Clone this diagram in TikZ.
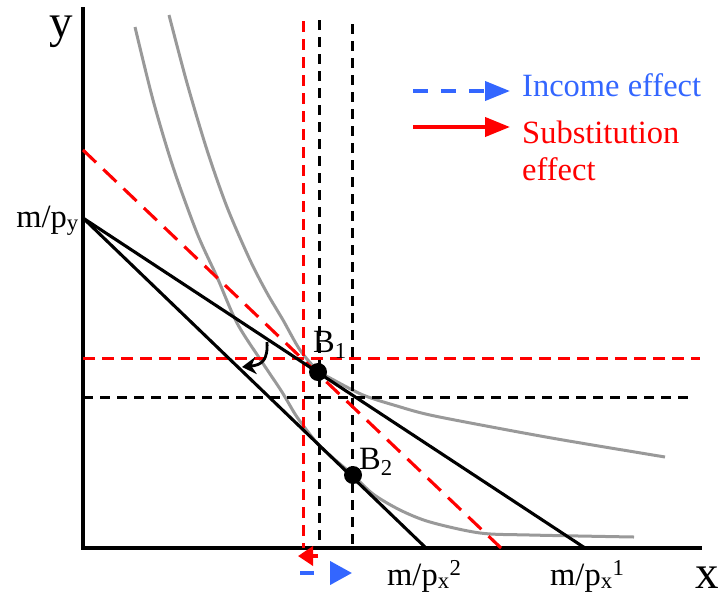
\documentclass[tikz,border=0pt]{standalone}
\usepackage{fontspec}
\setmainfont{Liberation Serif}
\usetikzlibrary{arrows.meta}
\definecolor{incomeblue}{HTML}{3366FF}
\definecolor{curvegray}{HTML}{999999}

\begin{document}
\begin{tikzpicture}[x=1pt, y=-1pt,
  axis/.style={line width=3.2pt},
  budget/.style={line width=3.1pt},
  indiff/.style={line width=3pt, color=curvegray},
  guide/.style={line width=3pt, dash pattern=on 10pt off 7pt},
  redguide/.style={guide, red, dash pattern=on 11pt off 7pt},
  bundle/.style={circle, fill=black, inner sep=0pt, minimum size=18pt},
  lbl/.style={font=\fontsize{32.5}{37}\selectfont, inner sep=0pt},
  axlbl/.style={font=\fontsize{47}{52}\selectfont, inner sep=0pt},
  effect/.style={line width=4pt, -{Triangle[length=25pt,width=19pt]}}
]
  \useasboundingbox (0,0) rectangle (722,598);

  % axes
  \coordinate (O) at (83,548);
  \coordinate (ytop) at (83,7);
  \coordinate (xend) at (702,548);
  \draw[axis] (ytop) -- (O) -- (xend);
  \node[axlbl, anchor=base] (ylab) at (61,37) {y};
  \node[axlbl, anchor=base] (xlab) at (707,588) {x};

  % indifference curves
  \draw[indiff] plot[smooth, tension=0.5] coordinates {
    (135,27) (153,100) (173,167) (197,233) (217,277) (237,323) (262,362)
    (282,392) (297,417) (317,443) (333,458) (353,475) (373,494) (400,510)
    (430,522) (480,533) (530,535) (634,537)};
  \draw[indiff] plot[smooth, tension=0.5] coordinates {
    (169,15) (187,83) (207,150) (227,207) (250,260) (267,293) (283,320)
    (300,350) (318,371) (330,378) (363,395) (397,406) (430,415) (497,428)
    (563,440) (665,457)};

  % guide lines
  \coordinate (rv) at (303,21);  \coordinate (rvb) at (303,548);
  \coordinate (bv1) at (319,20); \coordinate (bv1b) at (319,548);
  \coordinate (bv2) at (352,24); \coordinate (bv2b) at (352,548);
  \coordinate (rh) at (83,358);  \coordinate (rhe) at (700,358);
  \coordinate (bh) at (83,397);  \coordinate (bhe) at (695,397);
  \draw[redguide] (rv) -- (rvb);
  \draw[guide] (bv1) -- (bv1b);
  \draw[guide] (bv2) -- (bv2b);
  \draw[redguide, dash pattern=on 12pt off 7pt] (rh) -- (rhe);
  \draw[guide] (bh) -- (bhe);

  % budget lines
  \coordinate (py) at (83,218);
  \coordinate (px1) at (585,548);
  \coordinate (px2) at (426,548);
  \coordinate (comp) at (83,150);
  \coordinate (compx) at (501,548);
  \draw[budget, red, dash pattern=on 18pt off 10pt] (comp) -- (compx);
  \draw[budget] (py) -- (px1);
  \draw[budget] (py) -- (px2);

  % bundles
  \node[bundle] (B1) at (318,372) {};
  \node[bundle] (B2) at (353,475) {};
  \node[lbl, anchor=west] (B1lab) at (313,345) {B\textsubscript{1}};
  \node[lbl, anchor=west] (B2lab) at (359,462) {B\textsubscript{2}};

  % pivot arrow
  \coordinate (pivs) at (267,342);
  \coordinate (pive) at (242,367);
  \draw[line width=2.8pt, -{Stealth[length=14pt,width=17pt]}]
    (pivs) .. controls (268,360) and (262,365) .. (pive);

  % intercept labels
  \node[lbl, anchor=base east] (pylab) at (79,227) {m/p\textsubscript{y}};
  \node[lbl, anchor=base west] (px2lab) at (387,585) {m/p\textsubscript{x}\textsuperscript{2}};
  \node[lbl, anchor=base west] (px1lab) at (550,585) {m/p\textsubscript{x}\textsuperscript{1}};

  % effects on the x axis
  \coordinate (sube) at (318,556);
  \coordinate (subt) at (298,556);
  \draw[line width=3.5pt, red, -{Triangle[length=15pt,width=19pt]}] (sube) -- (subt);
  \coordinate (incs) at (300,573);
  \coordinate (inct) at (352,573);
  \draw[line width=4pt, incomeblue, dash pattern=on 14pt off 16pt,
        -{Triangle[length=22pt,width=23pt]}] (incs) -- (inct);

  % legend
  \coordinate (lg1s) at (413,91);  \coordinate (lg1e) at (510,91);
  \coordinate (lg2s) at (413,127); \coordinate (lg2e) at (510,127);
  \draw[effect, incomeblue, dash pattern=on 15pt off 13pt] (lg1s) -- (lg1e);
  \draw[effect, red] (lg2s) -- (lg2e);
  \node[lbl, anchor=base west, text=incomeblue] (inclab) at (522,96) {Income effect};
  \node[lbl, anchor=north west, align=left, text=red] (sublab) at (522,121) {Substitution\\effect};
\end{tikzpicture}
\end{document}
